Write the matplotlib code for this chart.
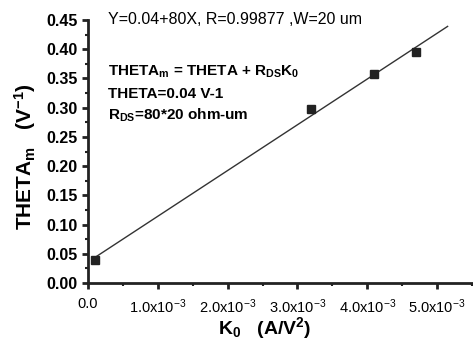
import numpy as np
import matplotlib.pyplot as plt
from matplotlib.ticker import FixedLocator, MultipleLocator

plt.rcParams['font.family'] = ['Liberation Sans', 'DejaVu Sans']
plt.rcParams['mathtext.fontset'] = 'custom'
plt.rcParams['mathtext.rm'] = 'Liberation Sans'
plt.rcParams['mathtext.bf'] = 'Liberation Sans:bold'
plt.rcParams['mathtext.it'] = 'Liberation Sans:italic'

# measured points
k0 = [0.1e-3, 3.2e-3, 4.1e-3, 4.7e-3]
theta_m = [0.040, 0.298, 0.358, 0.395]

# fitted line range
fit_x = [0.1e-3, 5.15e-3]

xticks = [0, 1e-3, 2e-3, 3e-3, 4e-3, 5e-3]
xticklabels = ['0.0', r'1.0x10$^{-3}$', r'2.0x10$^{-3}$', r'3.0x10$^{-3}$',
               r'4.0x10$^{-3}$', r'5.0x10$^{-3}$']
yticks = [0.0, 0.05, 0.10, 0.15, 0.20, 0.25, 0.30, 0.35, 0.40, 0.45]
yticklabels = ['0.00', '0.05', '0.10', '0.15', '0.20', '0.25', '0.30',
               '0.35', '0.40', '0.45']

fig = plt.figure(figsize=(4.73, 3.44), dpi=100)
ax = fig.add_axes([0.186, 0.177, 0.812, 0.765])

slope, icpt = np.polyfit(k0, theta_m, 1)
fx = np.array(fit_x)
ax.plot(fx, icpt + slope * fx, color='#333333', lw=1.0)
ax.plot(k0, theta_m, 's', color='#222222', ms=6, clip_on=False)

ax.set_xlim(0, 5.5e-3)
ax.set_ylim(0, 0.45)
ax.spines['top'].set_visible(False)
ax.spines['right'].set_visible(False)
for s in ['left', 'bottom']:
    ax.spines[s].set_linewidth(2)
    ax.spines[s].set_color('#222222')

ax.yaxis.set_major_locator(FixedLocator(yticks))
ax.yaxis.set_minor_locator(MultipleLocator(0.025))
ax.xaxis.set_major_locator(FixedLocator(xticks))
ax.xaxis.set_minor_locator(MultipleLocator(0.5e-3))
ax.set_xticklabels(xticklabels, fontsize=10.5)
ax.set_yticklabels(yticklabels, fontsize=11.5, fontweight='bold')
ax.tick_params(which='major', length=4, width=2, color='#222222')
ax.tick_params(which='minor', length=2.5, width=1.5, color='#222222')
ax.tick_params(axis='x', pad=6)

ax.set_ylabel(r'THETA$_\mathbf{m}$   (V$^\mathbf{-1}$)', fontsize=15,
              fontweight='bold')
ax.yaxis.set_label_coords(-0.13, 0.48)
ax.set_xlabel(r'K$_\mathbf{0}$   (A/V$^\mathbf{2}$)', fontsize=14,
              fontweight='bold')
ax.xaxis.set_label_coords(0.46, -0.12)

ax.text(0.052, 1.0, 'Y=0.04+80X, R=0.99877 ,W=20 um', transform=ax.transAxes,
        fontsize=11.5, va='center', ha='left')
ax.text(0.052, 0.802, r'THETA$_\mathbf{m}$ = THETA + R$_\mathbf{DS}$K$_\mathbf{0}$',
        transform=ax.transAxes, fontsize=11, fontweight='bold', va='center')
ax.text(0.052, 0.719, 'THETA=0.04 V-1', transform=ax.transAxes,
        fontsize=11, fontweight='bold', va='center')
ax.text(0.052, 0.639, r'R$_\mathbf{DS}$=80*20 ohm-um', transform=ax.transAxes,
        fontsize=11, fontweight='bold', va='center')

fig.savefig('out.png', dpi=100)
